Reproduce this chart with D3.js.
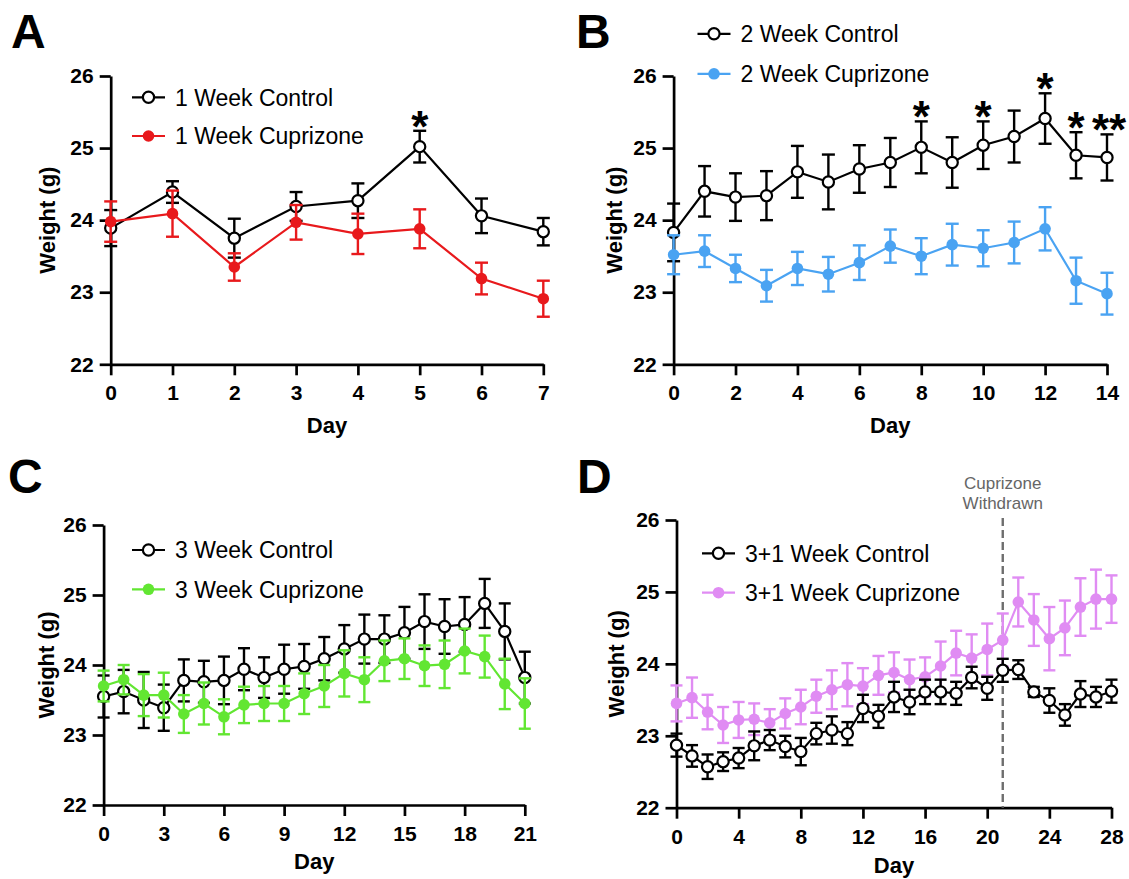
<!DOCTYPE html>
<html>
<head>
<meta charset="utf-8">
<script src="https://cdn.jsdelivr.net/npm/d3@7"></script>
<style>
  html, body { margin: 0; padding: 0; background: #fff; }
  svg { display: block; font-family: "Liberation Sans", Arial, Helvetica, sans-serif; }
</style>
</head>
<body>
<svg id="chart" width="1129" height="879"></svg>
<script>
// ---------------- DATA ----------------
const yTicks = [22, 23, 24, 25, 26];

// Panel A: 1 week
const daysA = [0, 1, 2, 3, 4, 5, 6, 7];
const xTicksA = [0, 1, 2, 3, 4, 5, 6, 7];
const ctrlA = [23.89, 24.39, 23.75, 24.19, 24.27, 25.02, 24.06, 23.84];
const ctrlA_err = [0.25, 0.15, 0.27, 0.20, 0.24, 0.22, 0.24, 0.19];
const cupA = [23.98, 24.09, 23.35, 23.97, 23.81, 23.88, 23.19, 22.91];
const cupA_err = [0.28, 0.32, 0.19, 0.24, 0.28, 0.27, 0.22, 0.25];
const sigA = [{ day: 5, label: "*" }];

// Panel B: 2 weeks
const daysB = [0, 1, 2, 3, 4, 5, 6, 7, 8, 9, 10, 11, 12, 13, 14];
const xTicksB = [0, 2, 4, 6, 8, 10, 12, 14];
const ctrlB = [23.83, 24.40, 24.32, 24.34, 24.67, 24.53, 24.71, 24.80, 25.01, 24.80, 25.04, 25.16, 25.41, 24.90, 24.87];
const ctrlB_err = [0.40, 0.35, 0.33, 0.34, 0.36, 0.38, 0.33, 0.34, 0.36, 0.35, 0.33, 0.36, 0.35, 0.32, 0.32];
const cupB = [23.52, 23.57, 23.33, 23.09, 23.33, 23.25, 23.41, 23.64, 23.50, 23.66, 23.61, 23.69, 23.88, 23.16, 22.98];
const cupB_err = [0.27, 0.22, 0.19, 0.22, 0.23, 0.24, 0.24, 0.23, 0.25, 0.29, 0.25, 0.29, 0.30, 0.32, 0.29];
const sigB = [{ day: 8, label: "*" }, { day: 10, label: "*" }, { day: 12, label: "*" }, { day: 13, label: "*" }, { day: 14, label: "**" }];

// Panel C: 3 weeks
const daysC = [0, 1, 2, 3, 4, 5, 6, 7, 8, 9, 10, 11, 12, 13, 14, 15, 16, 17, 18, 19, 20, 21];
const xTicksC = [0, 3, 6, 9, 12, 15, 18, 21];
const ctrlC = [23.55, 23.62, 23.50, 23.39, 23.78, 23.76, 23.78, 23.94, 23.82, 23.94, 23.98, 24.09, 24.23, 24.37, 24.37, 24.46, 24.62, 24.55, 24.58, 24.88, 24.48, 23.82];
const ctrlC_err = [0.30, 0.31, 0.40, 0.33, 0.30, 0.30, 0.34, 0.30, 0.29, 0.35, 0.32, 0.31, 0.34, 0.35, 0.34, 0.37, 0.39, 0.39, 0.39, 0.35, 0.40, 0.37];
const cupC = [23.70, 23.79, 23.57, 23.57, 23.30, 23.45, 23.26, 23.43, 23.45, 23.45, 23.59, 23.70, 23.88, 23.79, 24.06, 24.09, 23.99, 24.01, 24.20, 24.12, 23.73, 23.45];
const cupC_err = [0.22, 0.21, 0.30, 0.32, 0.27, 0.30, 0.25, 0.26, 0.25, 0.25, 0.29, 0.30, 0.33, 0.32, 0.29, 0.29, 0.29, 0.34, 0.32, 0.30, 0.36, 0.36];

// Panel D: 3+1 weeks
const daysD = [0, 1, 2, 3, 4, 5, 6, 7, 8, 9, 10, 11, 12, 13, 14, 15, 16, 17, 18, 19, 20, 21, 22, 23, 24, 25, 26, 27, 28];
const xTicksD = [0, 4, 8, 12, 16, 20, 24, 28];
const ctrlD = [22.87, 22.72, 22.57, 22.64, 22.69, 22.86, 22.94, 22.85, 22.78, 23.03, 23.08, 23.03, 23.38, 23.27, 23.54, 23.47, 23.61, 23.61, 23.59, 23.81, 23.66, 23.91, 23.92, 23.61, 23.49, 23.29, 23.58, 23.54, 23.62];
const ctrlD_err = [0.16, 0.15, 0.17, 0.13, 0.14, 0.20, 0.14, 0.15, 0.19, 0.15, 0.19, 0.16, 0.19, 0.16, 0.21, 0.17, 0.17, 0.17, 0.16, 0.15, 0.16, 0.16, 0.13, 0.07, 0.17, 0.15, 0.18, 0.14, 0.16];
const cupD = [23.45, 23.53, 23.33, 23.15, 23.22, 23.23, 23.18, 23.31, 23.40, 23.55, 23.64, 23.71, 23.69, 23.84, 23.88, 23.78, 23.82, 23.97, 24.15, 24.08, 24.20, 24.33, 24.86, 24.61, 24.35, 24.50, 24.79, 24.90, 24.90];
const cupD_err = [0.25, 0.28, 0.24, 0.25, 0.25, 0.22, 0.19, 0.21, 0.24, 0.23, 0.27, 0.30, 0.25, 0.27, 0.28, 0.28, 0.27, 0.34, 0.31, 0.33, 0.36, 0.37, 0.34, 0.36, 0.44, 0.38, 0.40, 0.41, 0.33];
const withdrawDay = 21;

const labelsA = ["1 Week Control", "1 Week Cuprizone"];
const labelsB = ["2 Week Control", "2 Week Cuprizone"];
const labelsC = ["3 Week Control", "3 Week Cuprizone"];
const labelsD = ["3+1 Week Control", "3+1 Week Cuprizone"];

// ---------------- DRAWING ----------------
const svg = d3.select("#chart");
const CTRL = "#000000";

function panel(cfg) {
  const g = svg.append("g");
  const x = d3.scaleLinear().domain([cfg.days[0], cfg.days[cfg.days.length - 1]]).range([cfg.x0, cfg.x1]);
  const y = d3.scaleLinear().domain([22, 26]).range([cfg.yBot, cfg.yTop]);

  // panel letter
  g.append("text").attr("x", cfg.letterX).attr("y", cfg.letterY)
    .attr("font-size", 48).attr("font-weight", "bold").attr("fill", "#000").text(cfg.letter);

  // axes
  const ya = g.append("g").attr("transform", `translate(${cfg.x0},0)`)
    .call(d3.axisLeft(y).tickValues(yTicks).tickFormat(d3.format("d")).tickSize(11).tickSizeOuter(0).tickPadding(6));
  const xa = g.append("g").attr("transform", `translate(0,${cfg.yBot})`)
    .call(d3.axisBottom(x).tickValues(cfg.xTicks).tickFormat(d3.format("d")).tickSize(11).tickSizeOuter(0).tickPadding(10));
  [ya, xa].forEach(a => {
    a.select(".domain").attr("stroke", "#000").attr("stroke-width", 2.7);
    a.selectAll(".tick line").attr("stroke", "#000").attr("stroke-width", 2.7);
    a.selectAll(".tick text").attr("fill", "#000").attr("font-size", 21).attr("font-weight", "bold")
      .attr("font-family", "'Liberation Sans', Arial, sans-serif");
  });

  // axis titles
  g.append("text").attr("x", (cfg.x0 + cfg.x1) / 2).attr("y", cfg.dayY)
    .attr("text-anchor", "middle").attr("font-size", 22).attr("font-weight", "bold").text("Day");
  g.append("text")
    .attr("transform", `translate(${cfg.wX},${(cfg.yTop + cfg.yBot) / 2}) rotate(-90)`)
    .attr("text-anchor", "middle").attr("dy", "0.36em").attr("font-size", 22).attr("font-weight", "bold").text("Weight (g)");

  // dashed marker line (panel D)
  if (cfg.vline !== undefined) {
    g.append("line").attr("x1", x(cfg.vline)).attr("x2", x(cfg.vline))
      .attr("y1", cfg.yTop - 2).attr("y2", cfg.yBot)
      .attr("stroke", "#6e6e6e").attr("stroke-width", 2.4).attr("stroke-dasharray", "8,4");
    g.append("text").attr("x", x(cfg.vline)).attr("y", cfg.yTop - 31)
      .attr("text-anchor", "middle").attr("font-size", 17).attr("fill", "#666").text("Cuprizone");
    g.append("text").attr("x", x(cfg.vline)).attr("y", cfg.yTop - 11)
      .attr("text-anchor", "middle").attr("font-size", 17).attr("fill", "#666").text("Withdrawn");
  }

  function series(vals, errs, color, open) {
    const sg = g.append("g");
    const data = cfg.days.map((d, i) => ({ d, v: vals[i], e: errs[i] }));
    const cap = cfg.cap;
    // error bars
    const eb = sg.selectAll(".eb").data(data).enter().append("g");
    eb.append("line").attr("x1", p => x(p.d)).attr("x2", p => x(p.d))
      .attr("y1", p => y(p.v - p.e)).attr("y2", p => y(p.v + p.e))
      .attr("stroke", color).attr("stroke-width", 2.4);
    eb.append("line").attr("x1", p => x(p.d) - cap).attr("x2", p => x(p.d) + cap)
      .attr("y1", p => y(p.v + p.e)).attr("y2", p => y(p.v + p.e))
      .attr("stroke", color).attr("stroke-width", 2.4);
    eb.append("line").attr("x1", p => x(p.d) - cap).attr("x2", p => x(p.d) + cap)
      .attr("y1", p => y(p.v - p.e)).attr("y2", p => y(p.v - p.e))
      .attr("stroke", color).attr("stroke-width", 2.4);
    // line
    sg.append("path").datum(data)
      .attr("d", d3.line().x(p => x(p.d)).y(p => y(p.v)))
      .attr("fill", "none").attr("stroke", color).attr("stroke-width", 2.2);
    // markers
    sg.selectAll(".pt").data(data).enter().append("circle")
      .attr("cx", p => x(p.d)).attr("cy", p => y(p.v)).attr("r", open ? 5.6 : 5.8)
      .attr("fill", open ? "#fff" : color).attr("stroke", color).attr("stroke-width", open ? 2.2 : 0);
  }

  if (cfg.ctrlOnTop) {
    series(cfg.cup, cfg.cupErr, cfg.color, false);
    series(cfg.ctrl, cfg.ctrlErr, CTRL, true);
  } else {
    series(cfg.ctrl, cfg.ctrlErr, CTRL, true);
    series(cfg.cup, cfg.cupErr, cfg.color, false);
  }

  // significance
  (cfg.sig || []).forEach(s => {
    const i = cfg.days.indexOf(s.day);
    const top = y(cfg.ctrl[i] + cfg.ctrlErr[i]);
    g.append("text").attr("x", x(s.day) + (s.label.length > 1 ? 2 : 0)).attr("y", top - 14 + 25)
      .attr("text-anchor", "middle").attr("font-size", 44).attr("font-weight", "bold").text(s.label);
  });

  // legend
  const leg = [
    { label: cfg.labels[0], color: CTRL, open: true, y: cfg.legY[0] },
    { label: cfg.labels[1], color: cfg.color, open: false, y: cfg.legY[1] }
  ];
  leg.forEach(L => {
    g.append("line").attr("x1", cfg.legX0).attr("x2", cfg.legX0 + 33).attr("y1", L.y).attr("y2", L.y)
      .attr("stroke", L.color).attr("stroke-width", 2.2);
    g.append("circle").attr("cx", cfg.legX0 + 16.5).attr("cy", L.y).attr("r", L.open ? 5.6 : 5.8)
      .attr("fill", L.open ? "#fff" : L.color).attr("stroke", L.color).attr("stroke-width", L.open ? 2.2 : 0);
    g.append("text").attr("x", cfg.legX0 + 43).attr("y", L.y + 8.3)
      .attr("font-size", 23).attr("fill", "#000").text(L.label);
  });
}

panel({ letter: "A", letterX: 11, letterY: 48, days: daysA, xTicks: xTicksA,
  x0: 110.7, x1: 543.3, yTop: 76, yBot: 364.3, dayY: 433, wX: 47.5, cap: 6.5,
  ctrl: ctrlA, ctrlErr: ctrlA_err, cup: cupA, cupErr: cupA_err, color: "#e8191c",
  sig: sigA, labels: labelsA, legX0: 132, legY: [97.3, 136] });

panel({ letter: "B", letterX: 576, letterY: 48, days: daysB, xTicks: xTicksB,
  x0: 673.6, x1: 1107, yTop: 76, yBot: 364.3, dayY: 433, wX: 614, cap: 6.5,
  ctrl: ctrlB, ctrlErr: ctrlB_err, cup: cupB, cupErr: cupB_err, color: "#4aa3f2",
  sig: sigB, labels: labelsB, legX0: 697.5, legY: [33.8, 73.8] });

panel({ letter: "C", letterX: 8, letterY: 493, days: daysC, xTicks: xTicksC,
  x0: 103.6, x1: 524.8, yTop: 525, yBot: 805, dayY: 869, wX: 46.4, cap: 6,
  ctrl: ctrlC, ctrlErr: ctrlC_err, cup: cupC, cupErr: cupC_err, color: "#62e632",
  labels: labelsC, legX0: 132, legY: [550, 589.3] });

panel({ letter: "D", letterX: 577, letterY: 493, days: daysD, xTicks: xTicksD,
  x0: 676.5, x1: 1111.5, yTop: 520, yBot: 807.7, dayY: 873, wX: 616, cap: 6,
  ctrl: ctrlD, ctrlErr: ctrlD_err, cup: cupD, cupErr: cupD_err, color: "#e08cf3",
  labels: labelsD, legX0: 702, legY: [553.3, 592.7], vline: withdrawDay, ctrlOnTop: true });
</script>
</body>
</html>
